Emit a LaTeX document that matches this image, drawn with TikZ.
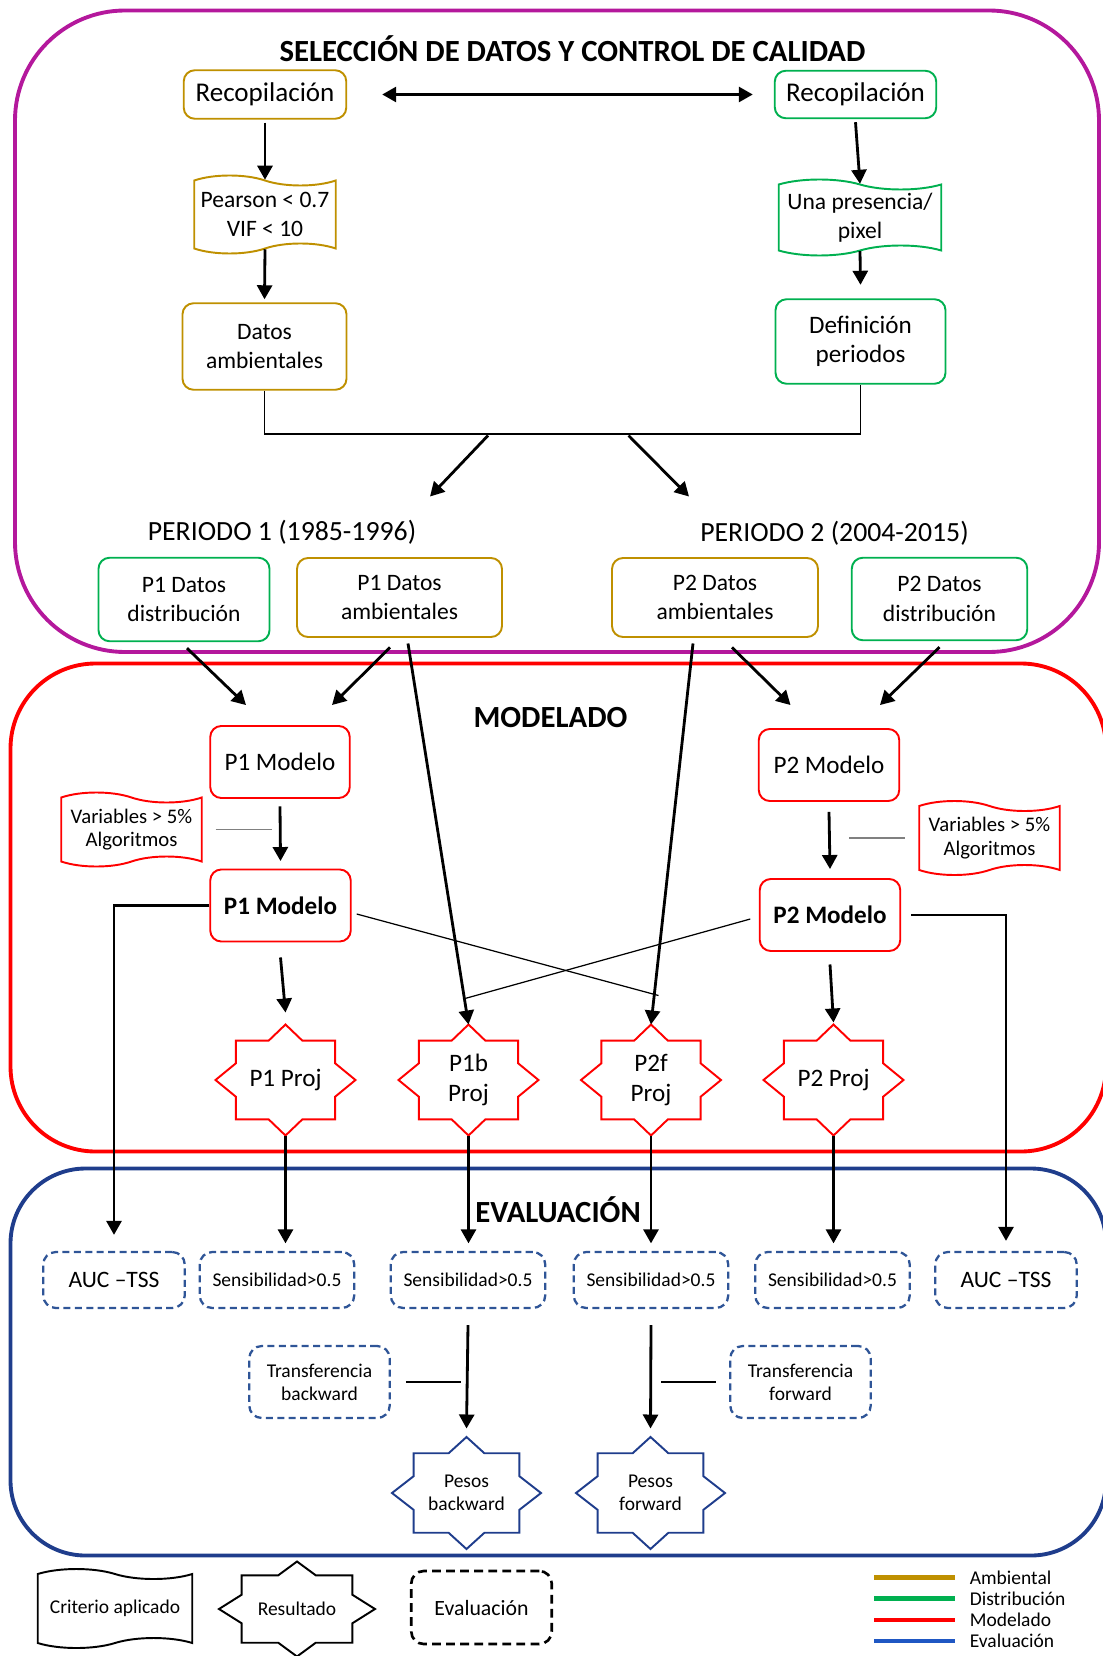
\documentclass[tikz,border=0pt]{standalone}
\usepackage{fontspec}
\setmainfont{Carlito}
\usetikzlibrary{arrows.meta,calc,positioning,shapes.symbols}
\definecolor{ambcol}{HTML}{BF9000}
\definecolor{discol}{HTML}{00B050}
\definecolor{modcol}{HTML}{FF0000}
\definecolor{evacol}{HTML}{2F5597}
\definecolor{evaline}{HTML}{1F57C3}
\definecolor{evaframe}{HTML}{1F3D8C}
\definecolor{selcol}{HTML}{B4189C}
\tikzset{>={Triangle[length=0.28cm,width=0.3cm]}}
\tikzset{
  box/.style={draw,rounded corners=0.22cm,line width=1.1pt,align=center,inner sep=0pt},
  ambbox/.style={box,draw=ambcol},
  disbox/.style={box,draw=discol},
  modbox/.style={box,draw=modcol},
  tapebox/.style={draw,tape,tape bend top=out and in,tape bend bottom=in and out,
    tape bend height=0.2cm,line width=1.1pt,align=center,inner sep=0pt},
  evalbox/.style={draw=evacol,rounded corners=0.25cm,line width=1.3pt,
    dash pattern=on 4pt off 2.5pt,align=center,inner sep=0pt},
  projnode/.style={inner sep=0pt,outer sep=0pt,align=center},
  arr/.style={line width=1.6pt},
  fbig/.style={font=\fontsize{15.4}{18}\selectfont},
  fmid/.style={font=\fontsize{14.3}{16.8}\selectfont},
  fdat/.style={font=\fontsize{13.4}{16.6}\selectfont},
  fvar/.style={font=\fontsize{11.8}{13.4}\selectfont},
  fsmall/.style={font=\fontsize{11.1}{13.2}\selectfont},
  fper/.style={font=\fontsize{15.8}{18}\selectfont},
  ftitle/.style={font=\fontsize{17.5}{20}\selectfont\bfseries}
}
% star outline round a named node: node, half width, half height, colour
\newcommand{\projstar}[4]{%
  \draw[#4,line width=1.1pt] ($(#1.center)+(0,#3)$)
    \foreach \sx/\sy in {0.24/0.71,0.71/0.71,0.71/0.3,1/0,0.71/-0.3,0.71/-0.71,0.24/-0.71,0/-1,
      -0.24/-0.71,-0.71/-0.71,-0.71/-0.3,-1/0,-0.71/0.3,-0.71/0.71,-0.24/0.71}
      { -- ($(#1.center)+(\sx*#2,\sy*#3)$) } -- cycle;
}

\begin{document}
\begin{tikzpicture}
		\useasboundingbox (0,0) rectangle (22.04,-33.12);
		
		% frames.
		\draw[selcol,line width=2.2pt,rounded corners=2.2cm] (0.30,-0.21) rectangle (21.98,-13.04);
		\draw[modcol,line width=2.2pt,rounded corners=1.7cm] (0.21,-13.27) rectangle (22.12,-23.03);
		\draw[evaframe,line width=2.2pt,rounded corners=1.5cm] (0.21,-23.37) rectangle (22.12,-31.11);
		
		% seleccion de datos.
		\node[ftitle] (seltitle) at (11.45,-0.97) {SELECCIÓN DE DATOS Y CONTROL DE CALIDAD};
		\node[ambbox,fbig,minimum width=3.25cm,minimum height=0.97cm] (recop1) at (5.30,-1.89) {Recopilación};
		\node[disbox,fbig,minimum width=3.23cm,minimum height=0.95cm] (recop2) at (17.11,-1.89) {Recopilación};
		\node[tapebox,draw=ambcol,fdat,minimum width=2.83cm,minimum height=1.56cm] (pearson) at (5.30,-4.29) {Pearson < 0.7\\VIF < 10};
		\node[ambbox,fdat,minimum width=3.28cm,minimum height=1.73cm] (datos) at (5.29,-6.93) {Datos\\ambientales};
		\node[tapebox,draw=discol,fdat,minimum width=3.25cm,minimum height=1.52cm] (una) at (17.20,-4.35) {Una presencia/\\pixel};
		\node[disbox,fmid,minimum width=3.40cm,minimum height=1.69cm] (defi) at (17.21,-6.83) {Definición\\periodos};
		
		\draw[<->,arr] ([xshift=0.7cm]recop1.east) -- ([xshift=-0.42cm]recop2.west);
		\draw[->,arr] ([yshift=-0.06cm]recop1.south) -- (pearson.north);
		\draw[->,arr] (pearson.south) -- ([yshift=0.06cm]datos.north);
		\draw[->,arr] ([yshift=-0.06cm]recop2.south) -- (una.north);
		\draw[->,arr] (una.south) -- ([yshift=0.27cm]defi.north);
		
		\draw[line width=1.1pt] (datos.south) -- ++(0,-0.87) -| (defi.south);
		\coordinate (barl) at (9.76,-8.71);
		\coordinate (barr) at (12.57,-8.71);
		\coordinate (per1) at (8.60,-9.93);
		\coordinate (per2) at (13.78,-9.93);
		\draw[->,arr] (barl) -- (per1);
		\draw[->,arr] (barr) -- (per2);
		
		% periodos.
		\node[fper] (per1label) at (5.64,-10.65) {PERIODO 1 (1985-1996)};
		\node[fper] (per2label) at (16.69,-10.67) {PERIODO 2 (2004-2015)};
		\node[disbox,fdat,minimum width=3.42cm,minimum height=1.67cm] (p1dist) at (3.68,-11.99) {P1 Datos\\distribución};
		\node[ambbox,fdat,minimum width=4.10cm,minimum height=1.58cm] (p1amb) at (7.99,-11.95) {P1 Datos\\ambientales};
		\node[ambbox,fdat,minimum width=4.12cm,minimum height=1.58cm] (p2amb) at (14.30,-11.95) {P2 Datos\\ambientales};
		\node[disbox,fdat,minimum width=3.51cm,minimum height=1.65cm] (p2dist) at (18.79,-11.98) {P2 Datos\\distribución};
		
		% modelado.
		\node[ftitle] (modtitle) at (11.01,-14.35) {MODELADO};
		\node[modbox,fmid,minimum width=2.79cm,minimum height=1.44cm] (p1mod) at (5.60,-15.24) {P1 Modelo};
		\node[modbox,fmid,minimum width=2.81cm,minimum height=1.44cm] (p2mod) at (16.58,-15.30) {P2 Modelo};
		\node[tapebox,draw=modcol,fvar,minimum width=2.81cm,minimum height=1.48cm] (var1) at (2.63,-16.59) {Variables > 5\%\\Algoritmos};
		\node[tapebox,draw=modcol,fvar,minimum width=2.81cm,minimum height=1.48cm] (var2) at (19.79,-16.76) {Variables > 5\%\\Algoritmos};
		\node[modbox,fmid,minimum width=2.81cm,minimum height=1.44cm] (p1modb) at (5.61,-18.11) {\textbf{P1 Modelo}};
		\node[modbox,fmid,minimum width=2.81cm,minimum height=1.44cm] (p2modb) at (16.60,-18.30) {\textbf{P2 Modelo}};
		
		\node[projnode,fmid,minimum width=2.8cm,minimum height=2.22cm] (p1proj) at (5.71,-21.6) {P1 Proj};
		\node[projnode,fmid,minimum width=2.8cm,minimum height=2.22cm] (p1bproj) at (9.37,-21.6) {P1b\\Proj};
		\node[projnode,fmid,minimum width=2.8cm,minimum height=2.22cm] (p2fproj) at (13.02,-21.6) {P2f\\Proj};
		\node[projnode,fmid,minimum width=2.8cm,minimum height=2.22cm] (p2proj) at (16.67,-21.6) {P2 Proj};
		\foreach \n in {p1proj,p1bproj,p2fproj,p2proj}
			\projstar{\n}{1.4}{1.11}{modcol};
		
		\draw[->,arr] ([xshift=0.06cm,yshift=-0.12cm]p1dist.south) -- ([xshift=-0.68cm,yshift=0.4cm]p1mod.north);
		\draw[->,arr] ([xshift=-0.19cm,yshift=-0.19cm]p1amb.south) -- ([xshift=1.04cm,yshift=0.4cm]p1mod.north);
		\draw[->,arr] ([xshift=0.34cm,yshift=-0.19cm]p2amb.south) -- ([xshift=-0.77cm,yshift=0.46cm]p2mod.north);
		\draw[->,arr] ([yshift=-0.12cm]p2dist.south) -- ([xshift=1.02cm,yshift=0.46cm]p2mod.north);
		\draw[->,arr] ([xshift=0.17cm,yshift=-0.11cm]p1amb.south) -- (p1bproj.north);
		\draw[->,arr] ([xshift=-0.44cm,yshift=-0.11cm]p2amb.south) -- (p2fproj.north);
		
		\draw[->,arr] ([yshift=-0.15cm]p1mod.south) -- ([yshift=0.15cm]p1modb.north);
		\draw[->,arr] ([yshift=-0.2cm]p2mod.south) -- ([yshift=0.18cm]p2modb.north);
		\draw[gray,line width=0.8pt] ([xshift=0.26cm]var1.east) -- ++(1.12,0);
		\draw[gray,line width=0.8pt] ([xshift=-0.27cm]var2.west) -- ++(-1.12,0);
		
		% cruces entre periodos.
		\draw[line width=0.7pt] ([xshift=0.1cm,yshift=-0.17cm]p1modb.east) -- ([xshift=0.15cm,yshift=0.58cm]p2fproj.north);
		\draw[line width=0.7pt] ([xshift=-0.17cm,yshift=-0.08cm]p2modb.west) -- ([xshift=-0.07cm,yshift=0.52cm]p1bproj.north);
		
		\draw[->,arr] ([yshift=-0.3cm]p1modb.south) -- ([yshift=0.24cm]p1proj.north);
		\draw[->,arr] ([yshift=-0.25cm]p2modb.south) -- ([yshift=0.04cm]p2proj.north);
		
		% evaluacion.
		\node[ftitle] (evatitle) at (11.16,-24.20) {EVALUACIÓN};
		\node[evalbox,fdat,minimum width=2.83cm,minimum height=1.12cm] (auc1) at (2.28,-25.60) {AUC –TSS};
		\node[evalbox,fsmall,minimum width=3.09cm,minimum height=1.12cm] (sens1) at (5.54,-25.60) {Sensibilidad>0.5};
		\node[evalbox,fsmall,minimum width=3.09cm,minimum height=1.12cm] (sens2) at (9.36,-25.60) {Sensibilidad>0.5};
		\node[evalbox,fsmall,minimum width=3.09cm,minimum height=1.12cm] (sens3) at (13.02,-25.60) {Sensibilidad>0.5};
		\node[evalbox,fsmall,minimum width=3.09cm,minimum height=1.12cm] (sens4) at (16.65,-25.60) {Sensibilidad>0.5};
		\node[evalbox,fdat,minimum width=2.83cm,minimum height=1.12cm] (auc2) at (20.12,-25.60) {AUC –TSS};
		\node[evalbox,fsmall,minimum width=2.81cm,minimum height=1.44cm] (trb) at (6.39,-27.64) {Transferencia\\backward};
		\node[evalbox,fsmall,minimum width=2.81cm,minimum height=1.44cm] (trf) at (16.01,-27.64) {Transferencia\\forward};
		\node[projnode,fsmall,minimum width=2.98cm,minimum height=2.24cm] (pesb) at (9.33,-29.86) {Pesos\\backward};
		\node[projnode,fsmall,minimum width=2.98cm,minimum height=2.24cm] (pesf) at (13.01,-29.86) {Pesos\\forward};
		\projstar{pesb}{1.49}{1.12}{evaframe};
		\projstar{pesf}{1.49}{1.12}{evaframe};
		
		\draw[->,arr] (p1modb.west) -| ([yshift=0.32cm]auc1.north);
		\draw[->,arr] ([xshift=0.2cm]p2modb.east) -| ([yshift=0.2cm]auc2.north);
		\foreach \p/\s in {p1proj/sens1,p1bproj/sens2,p2fproj/sens3,p2proj/sens4}
			\draw[->,arr] (\p.south) -- ([yshift=0.15cm]\p.south |- \s.north);
		\draw[->,arr] ([yshift=-0.32cm]sens2.south) -- ([yshift=0.17cm]pesb.north);
		\draw[->,arr] ([yshift=-0.32cm]sens3.south) -- ([yshift=0.17cm]pesf.north);
		\draw[line width=1.3pt] ([xshift=0.3cm]trb.east) -- ++(1.1,0);
		\draw[line width=1.3pt] ([xshift=-0.27cm]trf.west) -- ++(-1.1,0);
		
		% leyenda.
		\node[tapebox,fsmall,minimum width=3.09cm,minimum height=1.58cm] (crit) at (2.30,-32.17) {Criterio aplicado};
		\node[projnode,fsmall,minimum width=3.12cm,minimum height=1.9cm] (res) at (5.94,-32.18) {Resultado};
		\projstar{res}{1.56}{0.95}{black};
		\node[draw,rounded corners=0.25cm,line width=1.5pt,dash pattern=on 5pt off 3pt,
			font=\fontsize{12.4}{14}\selectfont,minimum width=2.81cm,minimum height=1.46cm] (evleg) at (9.63,-32.15) {Evaluación};
		\foreach \c/\t [count=\i] in {ambcol/Ambiental,discol/Distribución,modcol/Modelado,evaline/Evaluación}{
			\draw[\c,line width=2.3pt] (17.48,-31.13-0.42*\i) -- ++(1.62,0);
			\node[anchor=west,inner sep=0pt,fsmall] (leg\i) at (19.39,-31.13-0.42*\i) {\t};
		}
	\end{tikzpicture}
\end{document}
